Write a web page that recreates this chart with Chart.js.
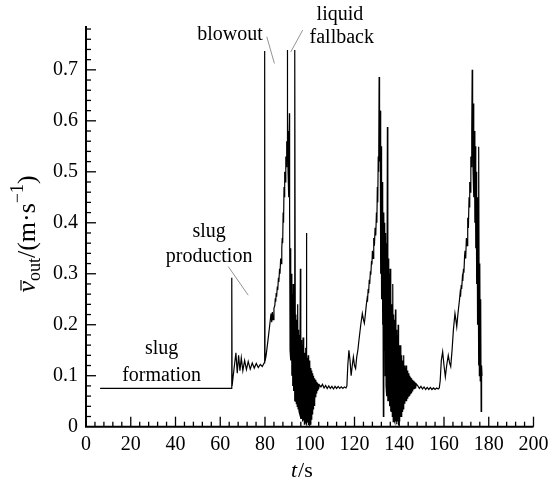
<!DOCTYPE html>
<html>
<head>
<meta charset="utf-8">
<script src="https://cdn.jsdelivr.net/npm/chart.js@4.4.0/dist/chart.umd.min.js"></script>
<style>
  html, body { margin: 0; padding: 0; background: #fff; }
</style>
</head>
<body>
<canvas id="slugChart" width="554" height="485"></canvas>
<script>
// outlet velocity v (m/s) against time t (s)
const slugFormation = [[6.3, 0.075], [65.0, 0.075]];
const slugProduction = [[65.15, 0.292], [65.3, 0.08], [65.8, 0.10], [67.0, 0.145], [67.6, 0.105], [68.2, 0.14], [68.8, 0.11],
    [69.4, 0.135], [70.1, 0.11], [70.9, 0.13], [71.7, 0.112], [72.5, 0.128], [73.4, 0.113], [74.3, 0.125],
    [75.2, 0.115], [76.1, 0.124], [77.0, 0.116], [77.9, 0.122], [78.8, 0.118], [79.6, 0.125]];
const blowoutSpike = [[79.8, 0.125], [79.9, 0.737], [80.0, 0.128]];
const cycle1Rise = [[80.5, 0.14], [81.2, 0.165], [82.0, 0.195], [82.7, 0.222], [83.0, 0.205], [83.3, 0.225], [83.6, 0.21],
    [84.0, 0.232], [84.4, 0.238], [84.6, 0.252], [84.8, 0.245], [85.0, 0.262], [85.2, 0.255], [85.5, 0.275], [85.7, 0.268],
    [86.0, 0.292], [86.2, 0.284], [86.5, 0.31], [86.7, 0.30], [87.0, 0.33], [87.2, 0.32], [87.5, 0.35], [87.7, 0.37],
    [87.9, 0.36], [88.1, 0.42], [88.3, 0.40], [88.5, 0.47], [88.7, 0.45], [88.9, 0.50], [89.1, 0.48], [89.3, 0.53],
    [89.5, 0.51], [89.7, 0.56], [89.9, 0.54], [90.0, 0.739], [90.1, 0.60], [90.3, 0.50], [90.5, 0.58], [90.7, 0.45],
    [90.9, 0.615]];
const cycle1Fallback = [[91.0, 0.42], [91.2, 0.15], [91.4, 0.35], [91.6, 0.13], [91.8, 0.30], [92.0, 0.10], [92.2, 0.26],
    [92.4, 0.08], [92.6, 0.28], [92.8, 0.07], [93.0, 0.23], [93.2, 0.05], [93.4, 0.739], [93.6, 0.05], [93.8, 0.22],
    [94.0, 0.045], [94.2, 0.21], [94.4, 0.04], [94.6, 0.24], [94.8, 0.035], [95.0, 0.19], [95.2, 0.03], [95.4, 0.18],
    [95.6, 0.025], [95.8, 0.31], [96.0, 0.015], [96.2, 0.17], [96.4, 0.015], [96.6, 0.16], [96.8, 0.01], [97.0, 0.175],
    [97.2, 0.012], [97.4, 0.15], [97.6, 0.005], [97.8, 0.145], [98.0, 0.01], [98.2, 0.155], [98.35, 0.008], [98.5, 0.38],
    [98.7, 0.005], [98.9, 0.135], [99.1, 0.008], [99.3, 0.14], [99.5, 0.003], [99.7, 0.125], [99.9, 0.008], [100.1, 0.13],
    [100.3, 0.005], [100.5, 0.115], [100.7, 0.015], [100.9, 0.11], [101.1, 0.025], [101.3, 0.105], [101.5, 0.035],
    [101.7, 0.10], [101.9, 0.042], [102.1, 0.095], [102.3, 0.05], [102.5, 0.092], [102.7, 0.058], [102.9, 0.088],
    [103.1, 0.065], [103.3, 0.086], [103.5, 0.07], [103.7, 0.084], [103.9, 0.073]];
const quiet1 = [[104.3, 0.082], [105.0, 0.078], [105.7, 0.083], [106.4, 0.076], [107.1, 0.081], [107.8, 0.075], [108.5, 0.080],
    [109.2, 0.075], [109.9, 0.079], [110.6, 0.074], [111.3, 0.079], [112.0, 0.075], [112.7, 0.079], [113.4, 0.075],
    [114.1, 0.078], [114.8, 0.075], [115.5, 0.078], [116.2, 0.076]];
const cycle2Rise = [[116.6, 0.08], [117.0, 0.12], [117.5, 0.15], [118.0, 0.13], [118.5, 0.10], [119.0, 0.12], [119.5, 0.137],
    [120.0, 0.12], [120.5, 0.114], [121.0, 0.137], [121.5, 0.15], [122.0, 0.17], [122.8, 0.20], [123.5, 0.222],
    [124.0, 0.21], [124.4, 0.203], [124.8, 0.218], [125.3, 0.24], [125.6, 0.25], [125.8, 0.245], [126.1, 0.27],
    [126.3, 0.262], [126.6, 0.288], [126.8, 0.28], [127.1, 0.305], [127.3, 0.298], [127.6, 0.325], [127.8, 0.318],
    [128.0, 0.345], [128.3, 0.33], [128.6, 0.37], [128.9, 0.355], [129.2, 0.39], [129.5, 0.375], [129.8, 0.42],
    [130.0, 0.40], [130.2, 0.47], [130.4, 0.44], [130.6, 0.53], [130.8, 0.50], [131.0, 0.686], [131.1, 0.60],
    [131.3, 0.52], [131.5, 0.62]];
const cycle2Fallback = [[131.7, 0.30], [131.9, 0.55], [132.1, 0.25], [132.3, 0.48], [132.5, 0.20], [132.7, 0.45], [132.9, 0.02],
    [133.1, 0.42], [133.3, 0.15], [133.5, 0.40], [133.7, 0.10], [133.9, 0.38], [134.1, 0.08], [134.3, 0.36], [134.5, 0.06],
    [134.7, 0.588], [134.9, 0.05], [135.1, 0.33], [135.3, 0.05], [135.5, 0.30], [135.7, 0.04], [135.9, 0.31], [136.1, 0.03],
    [136.3, 0.27], [136.5, 0.03], [136.7, 0.24], [136.9, 0.02], [137.1, 0.28], [137.3, 0.01], [137.5, 0.22], [137.7, 0.015],
    [137.9, 0.21], [138.1, 0.01], [138.3, 0.23], [138.5, 0.01], [138.7, 0.19], [138.9, 0.005], [139.1, 0.18], [139.3, 0.01],
    [139.5, 0.20], [139.7, 0.003], [139.9, 0.16], [140.1, 0.01], [140.3, 0.15], [140.5, 0.02], [140.7, 0.16], [140.9, 0.02],
    [141.1, 0.14], [141.3, 0.03], [141.5, 0.13], [141.7, 0.035], [141.9, 0.14], [142.1, 0.04], [142.3, 0.12], [142.5, 0.045],
    [142.7, 0.115], [142.9, 0.05], [143.1, 0.12], [143.3, 0.05], [143.5, 0.11], [143.7, 0.055], [143.9, 0.105], [144.1, 0.06],
    [144.3, 0.105], [144.5, 0.062], [144.7, 0.10], [144.9, 0.065], [145.1, 0.097], [145.3, 0.067], [145.5, 0.095],
    [145.7, 0.07], [145.9, 0.092], [146.1, 0.071], [146.3, 0.09], [146.5, 0.073], [146.7, 0.088], [146.9, 0.074],
    [147.1, 0.086], [147.3, 0.075], [147.6, 0.084]];
const quiet2 = [[148.3, 0.080], [149.0, 0.075], [149.7, 0.079], [150.4, 0.074], [151.1, 0.078], [151.8, 0.073], [152.5, 0.077],
    [153.2, 0.073], [153.9, 0.077], [154.6, 0.073], [155.3, 0.076], [156.0, 0.073], [156.7, 0.076], [157.4, 0.074],
    [157.9, 0.076]];
const cycle3Rise = [[158.3, 0.09], [158.8, 0.13], [159.4, 0.147], [160.0, 0.12], [160.6, 0.098], [161.2, 0.12], [161.9, 0.14],
    [162.5, 0.125], [163.0, 0.118], [163.6, 0.15], [164.2, 0.19], [164.9, 0.222], [165.3, 0.21], [165.7, 0.196],
    [166.2, 0.22], [166.9, 0.248], [167.2, 0.262], [167.4, 0.255], [167.7, 0.278], [167.9, 0.27], [168.2, 0.292],
    [168.4, 0.286], [168.7, 0.31], [168.9, 0.302], [169.2, 0.335], [169.4, 0.345], [169.7, 0.33], [170.0, 0.37],
    [170.3, 0.355], [170.6, 0.41], [170.9, 0.39], [171.2, 0.45], [171.4, 0.43], [171.6, 0.48], [171.8, 0.46],
    [172.0, 0.53], [172.2, 0.51], [172.4, 0.58], [172.6, 0.70], [172.8, 0.61], [173.0, 0.50], [173.2, 0.634]];
const cycle3Fallback = [[173.4, 0.45], [173.6, 0.58], [173.8, 0.40], [174.0, 0.55], [174.2, 0.35], [174.4, 0.50], [174.6, 0.28],
    [174.8, 0.45], [175.0, 0.20], [175.2, 0.40], [175.4, 0.12], [175.6, 0.549], [175.8, 0.10], [176.0, 0.32], [176.2, 0.09],
    [176.4, 0.25], [176.6, 0.03], [176.8, 0.12], [177.0, 0.10]];

// axis range and tick steps
const xRange = [0, 200];
const yRange = [0, 0.786];
const xSteps = { major: 20, minor: 4 };
const ySteps = { major: 0.1, minor: 0.02 };

// text notes in data coordinates: [text, t, v]
const notes = [
    ['slug', 33.8, 0.1425], ['formation', 33.8, 0.09],
    ['slug', 55.0, 0.372], ['production', 55.0, 0.3235],
    ['blowout', 64.4, 0.758],
    ['liquid', 113.5, 0.7975], ['fallback', 114.3, 0.7517]
];
// leader lines: [t1, v1, t2, v2]
const leaders = [[63.6, 0.314, 72.5, 0.258], [80.8, 0.765, 84.2, 0.7125], [96.85, 0.778, 91.5, 0.735]];

const FONT = '"Liberation Serif", "Times New Roman", serif';

const series = [].concat(slugFormation, slugProduction, blowoutSpike, cycle1Rise, cycle1Fallback, quiet1,
    cycle2Rise, cycle2Fallback, quiet2, cycle3Rise, cycle3Fallback);

// y axis title: v-bar with subscript "out", then /(m·s^-1)
function drawYTitle(ctx, cx, cy) {
    const parts = [
        { s: 'v', font: 'italic 26px ' + FONT, dy: 0, bar: true },
        { s: 'out', font: '18px ' + FONT, dy: 5 },
        { s: '/(m\u00b7s', font: '26px ' + FONT, dy: 0 },
        { s: '\u22121', font: '18px ' + FONT, dy: -12 },
        { s: ')', font: '26px ' + FONT, dy: 0 }
    ];
    let total = 0;
    parts.forEach(p => { ctx.font = p.font; p.w = ctx.measureText(p.s).width; total += p.w; });
    ctx.save();
    ctx.translate(cx, cy);
    ctx.rotate(-Math.PI / 2);
    ctx.textBaseline = 'alphabetic';
    ctx.textAlign = 'left';
    let pos = -total / 2;
    parts.forEach(p => {
        ctx.font = p.font;
        ctx.fillText(p.s, pos, p.dy);
        if (p.bar) {
            ctx.lineWidth = 1.2;
            ctx.beginPath();
            ctx.moveTo(pos + 2, -14);
            ctx.lineTo(pos + p.w + 1, -14);
            ctx.stroke();
        }
        pos += p.w;
    });
    ctx.restore();
}

const axisDecor = {
    id: 'axisDecor',
    afterDraw(chart) {
        const { ctx, chartArea: a } = chart;
        const x = chart.scales.x, y = chart.scales.y;
        ctx.save();
        ctx.strokeStyle = '#000';
        ctx.fillStyle = '#000';

        // inward tick marks
        ctx.lineWidth = 1.3;
        const nx = Math.round((xRange[1] - xRange[0]) / xSteps.minor);
        for (let i = 1; i <= nx; i++) {
            const px = x.getPixelForValue(i * xSteps.minor);
            const len = (i * xSteps.minor) % xSteps.major === 0 ? 10 : 5;
            ctx.beginPath(); ctx.moveTo(px, a.bottom); ctx.lineTo(px, a.bottom - len); ctx.stroke();
        }
        const ny = Math.floor(yRange[1] / ySteps.minor + 1e-6);
        const perMajor = Math.round(ySteps.major / ySteps.minor);
        for (let i = 1; i <= ny; i++) {
            const py = y.getPixelForValue(i * ySteps.minor);
            const len = i % perMajor === 0 ? 10 : 5;
            ctx.beginPath(); ctx.moveTo(a.left, py); ctx.lineTo(a.left + len, py); ctx.stroke();
        }

        // axis lines
        ctx.lineWidth = 2;
        ctx.beginPath();
        ctx.moveTo(a.left, a.top);
        ctx.lineTo(a.left, a.bottom);
        ctx.lineTo(a.right, a.bottom);
        ctx.stroke();

        // notes and leader lines
        ctx.font = '20px ' + FONT;
        ctx.textAlign = 'center';
        ctx.textBaseline = 'alphabetic';
        notes.forEach(([s, t, v]) => ctx.fillText(s, x.getPixelForValue(t), y.getPixelForValue(v)));
        ctx.strokeStyle = '#777';
        ctx.lineWidth = 0.8;
        leaders.forEach(([t1, v1, t2, v2]) => {
            ctx.beginPath();
            ctx.moveTo(x.getPixelForValue(t1), y.getPixelForValue(v1));
            ctx.lineTo(x.getPixelForValue(t2), y.getPixelForValue(v2));
            ctx.stroke();
        });

        // axis titles
        ctx.fillStyle = '#000';
        ctx.strokeStyle = '#000';
        ctx.textAlign = 'left';
        const tx = 291, ty = 477;
        ctx.font = 'italic 22px ' + FONT;
        ctx.fillText('t', tx, ty);
        let w = ctx.measureText('t').width;
        ctx.font = '22px ' + FONT;
        ctx.fillText('/s', tx + w + 1, ty);
        drawYTitle(ctx, 35, 234);
        ctx.restore();
    }
};

new Chart(document.getElementById('slugChart'), {
    type: 'line',
    data: {
        datasets: [{
            label: 'v_out',
            data: series.map(([t, v]) => ({ x: t, y: v })),
            borderColor: '#000',
            borderWidth: 1.2,
            pointRadius: 0,
            tension: 0,
            fill: false
        }]
    },
    options: {
        responsive: false,
        animation: false,
        layout: { padding: { left: 0, top: 26, right: 20.5, bottom: 0 } },
        plugins: {
            legend: { display: false },
            tooltip: { enabled: false }
        },
        scales: {
            x: {
                type: 'linear',
                min: xRange[0],
                max: xRange[1],
                grid: { display: false, drawTicks: false },
                border: { display: false },
                ticks: {
                    stepSize: xSteps.major,
                    autoSkip: false,
                    maxRotation: 0,
                    padding: 6,
                    color: '#000',
                    font: { family: FONT, size: 20 }
                },
                afterFit(scale) {
                    scale.height = 58.3;
                    scale.paddingLeft = 0;
                    scale.paddingRight = 0;
                }
            },
            y: {
                min: yRange[0],
                max: yRange[1],
                grid: { display: false, drawTicks: false },
                border: { display: false },
                ticks: {
                    stepSize: ySteps.major,
                    autoSkip: false,
                    padding: 8,
                    color: '#000',
                    font: { family: FONT, size: 20 },
                    callback(value) {
                        const k = value / ySteps.major;
                        if (Math.abs(k - Math.round(k)) > 1e-6) return null;
                        return value === 0 ? '0' : value.toFixed(1);
                    }
                },
                afterFit(scale) {
                    scale.width = 86;
                    scale.paddingTop = 0;
                    scale.paddingBottom = 0;
                }
            }
        }
    },
    plugins: [axisDecor]
});
</script>
</body>
</html>
